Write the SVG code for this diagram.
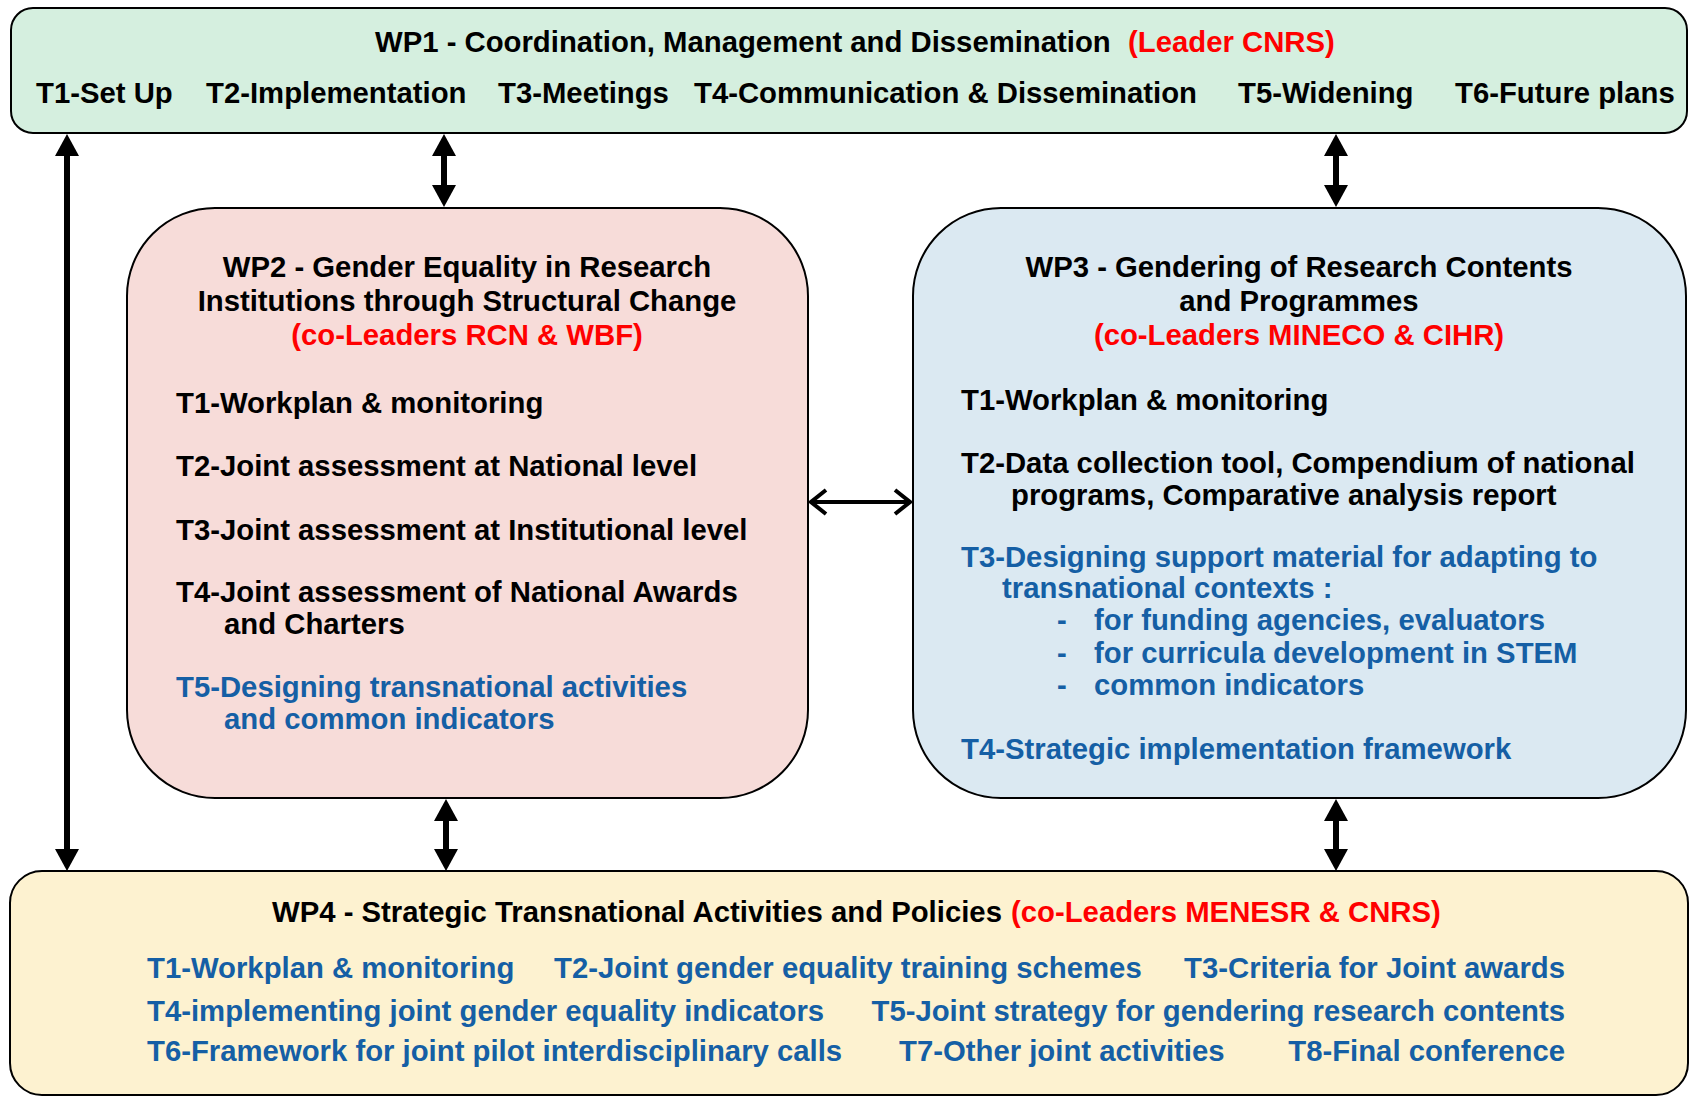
<svg xmlns="http://www.w3.org/2000/svg" width="1690" height="1097" viewBox="0 0 1690 1097">
<defs>
<style>
text{font-family:"Liberation Sans",Arial,Helvetica,sans-serif;font-weight:bold;font-size:29.3px;fill:#000}
.r{fill:#ff0000}
.b{fill:#155fa5}
.c{text-anchor:middle}
.e{text-anchor:end}
.box{stroke:#000;stroke-width:2}
.wp1{fill:#d5efdf}
.wp2{fill:#f7dcd9}
.wp3{fill:#dbe9f2}
.wp4{fill:#fdf2d0}
.arr{stroke:#000;stroke-width:6;fill:none}
.harr{stroke:#000;stroke-width:4;fill:none}
</style>
<marker id="head" markerUnits="userSpaceOnUse" markerWidth="22" markerHeight="24" refX="0" refY="12" orient="auto-start-reverse" viewBox="0 0 22 24"><path d="M0,0 L22,12 L0,24 Z" fill="#000"/></marker>
<marker id="chev" markerUnits="userSpaceOnUse" viewBox="-3 -15 21 30" markerWidth="21" markerHeight="30" refX="15" refY="0" orient="auto-start-reverse"><path d="M0,-12 L15,0 L0,12" fill="none" stroke="#000" stroke-width="4"/></marker>
</defs>
<rect width="1690" height="1097" fill="#fff"/>

<g id="wp1">
<rect class="box wp1" x="11" y="8" width="1676" height="125" rx="22"/>
<text x="375" y="52">WP1 - Coordination, Management and Dissemination<tspan class="r" x="1128">(Leader CNRS)</tspan></text>
<text x="36" y="103">T1-Set Up</text>
<text x="206" y="103">T2-Implementation</text>
<text x="498" y="103">T3-Meetings</text>
<text x="694" y="103">T4-Communication &amp; Dissemination</text>
<text x="1238" y="103">T5-Widening</text>
<text x="1455" y="103">T6-Future plans</text>
</g>

<g id="wp2">
<rect class="box wp2" x="127" y="208" width="681" height="590" rx="88"/>
<text class="c" x="467" y="277">WP2 - Gender Equality in Research</text>
<text class="c" x="467" y="311">Institutions through Structural Change</text>
<text class="c r" x="467" y="345">(co-Leaders RCN &amp; WBF)</text>
<text x="176" y="413">T1-Workplan &amp; monitoring</text>
<text x="176" y="476">T2-Joint assessment at National level</text>
<text x="176" y="540">T3-Joint assessment at Institutional level</text>
<text x="176" y="602">T4-Joint assessment of National Awards</text>
<text x="224" y="634">and Charters</text>
<text class="b" x="176" y="697">T5-Designing transnational activities</text>
<text class="b" x="224" y="729">and common indicators</text>
</g>

<g id="wp3">
<rect class="box wp3" x="913" y="208" width="773" height="590" rx="88"/>
<text class="c" x="1299" y="277">WP3 - Gendering of Research Contents</text>
<text class="c" x="1299" y="311">and Programmes</text>
<text class="c r" x="1299" y="345">(co-Leaders MINECO &amp; CIHR)</text>
<text x="961" y="410">T1-Workplan &amp; monitoring</text>
<text x="961" y="473">T2-Data collection tool, Compendium of national</text>
<text x="1011" y="505">programs, Comparative analysis report</text>
<text class="b" x="961" y="567">T3-Designing support material for adapting to</text>
<text class="b" x="1002" y="598">transnational contexts :</text>
<text class="b" x="1057" y="630">-</text>
<text class="b" x="1094" y="630">for funding agencies, evaluators</text>
<text class="b" x="1057" y="663">-</text>
<text class="b" x="1094" y="663">for curricula development in STEM</text>
<text class="b" x="1057" y="695">-</text>
<text class="b" x="1094" y="695">common indicators</text>
<text class="b" x="961" y="759">T4-Strategic implementation framework</text>
</g>

<g id="wp4">
<rect class="box wp4" x="10" y="871" width="1678" height="224" rx="32"/>
<text x="272" y="922">WP4 - Strategic Transnational Activities and Policies <tspan class="r" x="1011">(co-Leaders MENESR &amp; CNRS)</tspan></text>
<text class="b" x="147" y="978">T1-Workplan &amp; monitoring</text>
<text class="b" x="554" y="978">T2-Joint gender equality training schemes</text>
<text class="b e" x="1565" y="978">T3-Criteria for Joint awards</text>
<text class="b" x="147" y="1021">T4-implementing joint gender equality indicators</text>
<text class="b e" x="1565" y="1021">T5-Joint strategy for gendering research contents</text>
<text class="b" x="147" y="1061">T6-Framework for joint pilot interdisciplinary calls</text>
<text class="b" x="899" y="1061">T7-Other joint activities</text>
<text class="b e" x="1565" y="1061">T8-Final conference</text>
</g>

<g id="connectors">
<path class="arr" d="M67,156 V849" marker-start="url(#head)" marker-end="url(#head)"/>
<path class="arr" d="M444,156 V185" marker-start="url(#head)" marker-end="url(#head)"/>
<path class="arr" d="M1336,156 V185" marker-start="url(#head)" marker-end="url(#head)"/>
<path class="arr" d="M446,821 V849" marker-start="url(#head)" marker-end="url(#head)"/>
<path class="arr" d="M1336,821 V849" marker-start="url(#head)" marker-end="url(#head)"/>
<path class="harr" d="M811,502 H910" marker-start="url(#chev)" marker-end="url(#chev)"/>
</g>
</svg>
